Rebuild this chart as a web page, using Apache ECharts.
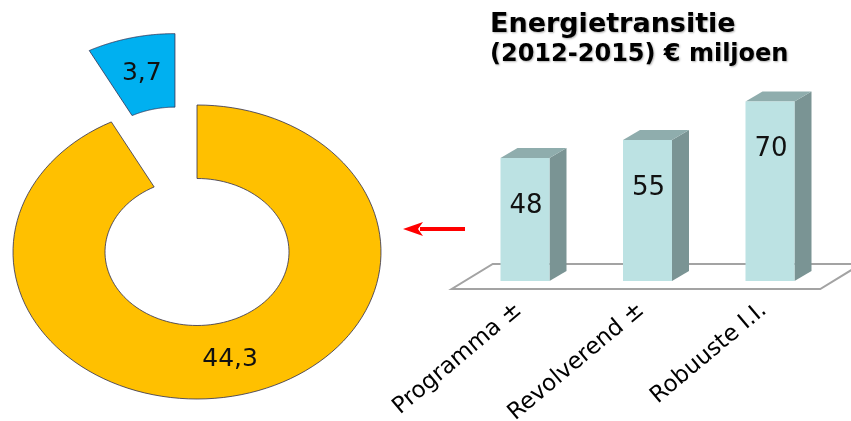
<!DOCTYPE html>
<html>
<head>
<meta charset="utf-8">
<style>html,body{margin:0;padding:0;background:#fff}#main{width:851px;height:421px}</style>
<script src="https://cdn.jsdelivr.net/npm/echarts@6/dist/echarts.min.js"></script>
</head>
<body>
<div id="main"></div>
<script>
// donut: first slice goes clockwise from 12 o'clock, second one is pulled out
var donutValues = [44.3, 3.7];
var donutColors = ['#FFC000', '#00B0F0'];
var donutExplode = [0, 0.5];

var barCategories = ['Programma ±', 'Revolverend ±', 'Robuuste I.I.'];
var barValues = [48, 55, 70];

var FONT = 'DejaVu Sans';

var donutTotal = donutValues.reduce(function (s, v) { return s + v; }, 0);
var donutStart = [];
var acc = 0;
donutValues.forEach(function (v) {
    donutStart.push(acc / donutTotal * Math.PI * 2);
    acc += v;
});

// bar grid layout
var barGrid = { left: 463.75, right: 19.75, top: 24.5, bottom: 140, outerBoundsMode: 'none', containLabel: false };
var zeroY = 421 - barGrid.bottom;
var floorL = barGrid.left - 12, floorR = 851 - barGrid.right - 11;

function donutItem(params, api) {
    var i = params.dataIndex;
    var a0 = donutStart[i];
    var a1 = a0 + donutValues[i] / donutTotal * Math.PI * 2;
    var mid = (a0 + a1) / 2;
    var ox = donutExplode[i] * Math.sin(mid), oy = donutExplode[i] * Math.cos(mid);
    var pts = [], n = 120, k, a;
    for (k = 0; k <= n; k++) {
        a = a0 + (a1 - a0) * k / n;
        pts.push(api.coord([ox + Math.sin(a), oy + Math.cos(a)]));
    }
    for (k = n; k >= 0; k--) {
        a = a0 + (a1 - a0) * k / n;
        pts.push(api.coord([ox + 0.5 * Math.sin(a), oy + 0.5 * Math.cos(a)]));
    }
    var lp = api.coord([ox + 0.75 * Math.sin(mid), oy + 0.75 * Math.cos(mid)]);
    return {
        type: 'group',
        children: [
            { type: 'polygon', shape: { points: pts },
              style: { fill: donutColors[i], stroke: '#2d2d50', lineWidth: 0.8 } },
            { type: 'text', x: lp[0], y: lp[1],
              style: { text: String(donutValues[i]).replace('.', ','), align: 'center', verticalAlign: 'middle',
                       font: '25px "' + FONT + '"', fill: '#111' } }
        ]
    };
}

function barItem(params, api) {
    var idx = api.value(0), val = api.value(1);
    var base = api.coord([idx, 0]), top = api.coord([idx, val]);
    var w = api.size([1, 0])[0] * 0.4;
    var x0 = base[0] - w / 2, x1 = base[0] + w / 2, y0 = top[1], y1 = base[1];
    var dx = 17, dy = 10;
    return {
        type: 'group',
        children: [
            { type: 'polygon', shape: { points: [[x1, y1], [x1, y0], [x1 + dx, y0 - dy], [x1 + dx, y1 - dy]] },
              style: { fill: '#7A9494' } },
            { type: 'polygon', shape: { points: [[x0, y0], [x1, y0], [x1 + dx, y0 - dy], [x0 + dx, y0 - dy]] },
              style: { fill: '#8FADAD' } },
            { type: 'rect', shape: { x: x0, y: y0, width: w, height: y1 - y0 },
              style: { fill: '#BCE2E3' } },
            { type: 'text', x: base[0] + 1, y: y0 + 48,
              style: { text: String(val), align: 'center', verticalAlign: 'middle',
                       font: '26px "' + FONT + '"', fill: '#111' } }
        ]
    };
}

var chart = echarts.init(document.getElementById('main'));
chart.setOption({
    animation: false,
    title: {
        text: 'Energietransitie',
        subtext: '(2012-2015) € miljoen',
        left: 485, top: 6, itemGap: 5,
        textStyle: { fontFamily: FONT, fontSize: 27, fontWeight: 'bold', color: '#000',
                     textShadowColor: 'rgba(0,0,0,0.3)', textShadowBlur: 2, textShadowOffsetX: 1, textShadowOffsetY: 1 },
        subtextStyle: { fontFamily: FONT, fontSize: 24, fontWeight: 'bold', color: '#000',
                        textShadowColor: 'rgba(0,0,0,0.3)', textShadowBlur: 2, textShadowOffsetX: 1, textShadowOffsetY: 1 }
    },
    grid: [
        { left: 13, top: 105, width: 368, height: 294, outerBoundsMode: 'none', containLabel: false },
        barGrid
    ],
    xAxis: [
        { gridIndex: 0, type: 'value', min: -1, max: 1, show: false },
        { gridIndex: 1, type: 'category', data: barCategories,
          axisLine: { show: false }, axisTick: { show: false },
          axisLabel: { interval: 0, rotate: 40, margin: 21, padding: [0, 8, 0, 0],
                       fontFamily: FONT, fontSize: 23, color: '#000' } }
    ],
    yAxis: [
        { gridIndex: 0, type: 'value', min: -1, max: 1, show: false },
        { gridIndex: 1, type: 'value', min: 0, max: 100, show: false }
    ],
    graphic: [
        { type: 'polygon', z: 0,
          shape: { points: [[floorL, zeroY + 8], [floorR, zeroY + 8], [floorR + 41, zeroY - 17], [floorL + 41, zeroY - 17]] },
          style: { fill: '#fff', stroke: '#A3A3A3', lineWidth: 2 } },
        { type: 'line', shape: { x1: 420, y1: 229, x2: 465, y2: 229 },
          style: { stroke: '#FF0000', lineWidth: 4 } },
        { type: 'polygon', shape: { points: [[403, 229], [423, 222], [418, 229], [423, 236]] },
          style: { fill: '#FF0000' } }
    ],
    series: [
        { type: 'custom', xAxisIndex: 0, yAxisIndex: 0, renderItem: donutItem,
          data: donutValues.map(function (v, i) { return [i, v]; }) },
        { type: 'custom', xAxisIndex: 1, yAxisIndex: 1, renderItem: barItem,
          data: barValues.map(function (v, i) { return [i, v]; }) }
    ]
});
</script>
</body>
</html>
